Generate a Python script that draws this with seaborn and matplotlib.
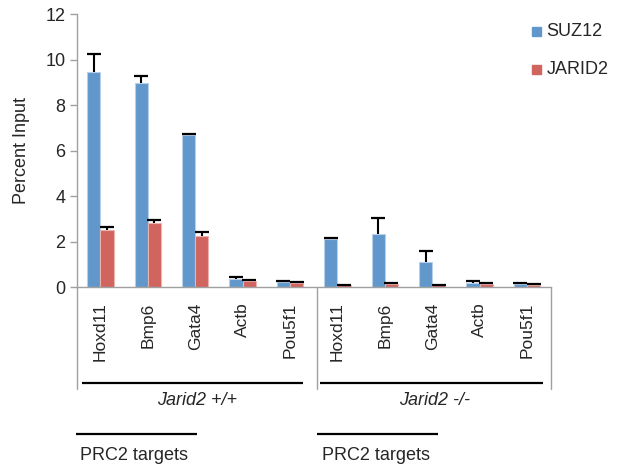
import matplotlib
matplotlib.use("Agg")
import matplotlib.pyplot as plt
import matplotlib.transforms as mtransforms
import seaborn as sns
import pandas as pd

# Gene loci probed in each genotype
genes = ["Hoxd11", "Bmp6", "Gata4", "Actb", "Pou5f1"]
genotypes = ["Jarid2 +/+", "Jarid2 -/-"]

# ChIP enrichment (percent input) and upper error for each antibody
suz12 = [9.46, 8.99, 6.69, 0.35, 0.25, 2.14, 2.33, 1.13, 0.18, 0.14]
suz12_err = [0.78, 0.28, 0.03, 0.09, 0.02, 0.02, 0.73, 0.48, 0.10, 0.04]
jarid2 = [2.52, 2.81, 2.25, 0.28, 0.19, 0.10, 0.15, 0.10, 0.13, 0.10]
jarid2_err = [0.13, 0.16, 0.17, 0.06, 0.04, 0.02, 0.02, 0.02, 0.05, 0.03]

antibodies = ["SUZ12", "JARID2"]
colors = {"SUZ12": "#6197CB", "JARID2": "#D0645F"}
edges = {"SUZ12": "#B7CFEA", "JARID2": "#EBB3B0"}

keys = [f"{g} {gt}" for gt in genotypes for g in genes]
labels = [g for gt in genotypes for g in genes]

df = pd.DataFrame({
    "locus": keys * 2,
    "antibody": ["SUZ12"] * len(keys) + ["JARID2"] * len(keys),
    "value": suz12 + jarid2,
})

sns.set_style("white")
plt.rcParams["font.family"] = ["Liberation Sans", "DejaVu Sans"]

fig = plt.figure(figsize=(6.27, 4.70), dpi=100)
ax = fig.add_axes([0.1223, 0.3887, 0.7560, 0.5809])

sns.barplot(data=df, x="locus", y="value", hue="antibody", order=keys,
            hue_order=antibodies, palette=colors, width=0.56, ax=ax,
            errorbar=None, legend=False, saturation=1)

errs = {"SUZ12": suz12_err, "JARID2": jarid2_err}
for container, ab in zip(ax.containers, antibodies):
    xs, hs = [], []
    for patch in container.patches:
        patch.set_edgecolor(edges[ab])
        patch.set_linewidth(0.8)
        xs.append(patch.get_x() + patch.get_width() / 2)
        hs.append(patch.get_height())
    _, caps, _ = ax.errorbar(xs, hs, yerr=[[0] * len(xs), errs[ab]],
                             fmt="none", ecolor="black", elinewidth=1.5,
                             capsize=4.8, capthick=1.6, zorder=3)
    # one-sided bars: keep only the upper cap
    caps[0].set_visible(False)

ax.set_xlim(-0.5, len(keys) - 0.5)
ax.set_ylim(0, 12)
ax.set_yticks([0, 2, 4, 6, 8, 10, 12])
ax.set_xticks(range(len(keys)))
ax.set_xticklabels(labels, rotation=90, fontsize=12.5)
ax.set_xlabel("")
ax.set_ylabel("Percent Input", fontsize=13, labelpad=11)
ax.tick_params(axis="y", labelsize=13, length=5, width=1, color="#A0A0A0",
               direction="out", left=True, pad=3)
ax.tick_params(axis="x", length=0, pad=11)

for side in ["top", "right"]:
    ax.spines[side].set_visible(False)
for side in ["left", "bottom"]:
    ax.spines[side].set_color("#A0A0A0")
    ax.spines[side].set_linewidth(1)

trans = mtransforms.blended_transform_factory(ax.transData, ax.transAxes)

# Multi-level category frame below the axis
for xv in [-0.5, 4.58, 9.5]:
    ax.plot([xv, xv], [0, -0.3725], transform=trans, color="#A0A0A0",
            lw=1, clip_on=False)

for x0, x1, xc, name in [(-0.39, 4.28, 2.03, genotypes[0]),
                         (4.63, 9.33, 7.05, genotypes[1])]:
    ax.plot([x0, x1], [-0.352, -0.352], transform=trans, color="black",
            lw=1.6, clip_on=False, solid_capstyle="butt")
    ax.text(xc, -0.415, name, transform=trans, ha="center", va="center",
            fontsize=13, style="italic")

for x0, x1 in [(-0.52, 2.03), (4.575, 7.13)]:
    ax.plot([x0, x1], [-0.537, -0.537], transform=trans, color="black",
            lw=1.6, clip_on=False, solid_capstyle="butt")
    ax.text(x0 + 0.1, -0.617, "PRC2 targets", transform=trans, ha="left",
            va="center", fontsize=13)

# Legend
for yy, ab in [(31.7, "SUZ12"), (69.5, "JARID2")]:
    fy = 1 - yy / 470
    fig.patches.append(plt.Rectangle((532.3 / 627, fy - 4.5 / 470), 9 / 627,
                                     9 / 470, transform=fig.transFigure,
                                     color=colors[ab], figure=fig))
    fig.text(546.5 / 627, fy, ab, ha="left", va="center", fontsize=13)

fig.savefig("out.png", dpi=100)
